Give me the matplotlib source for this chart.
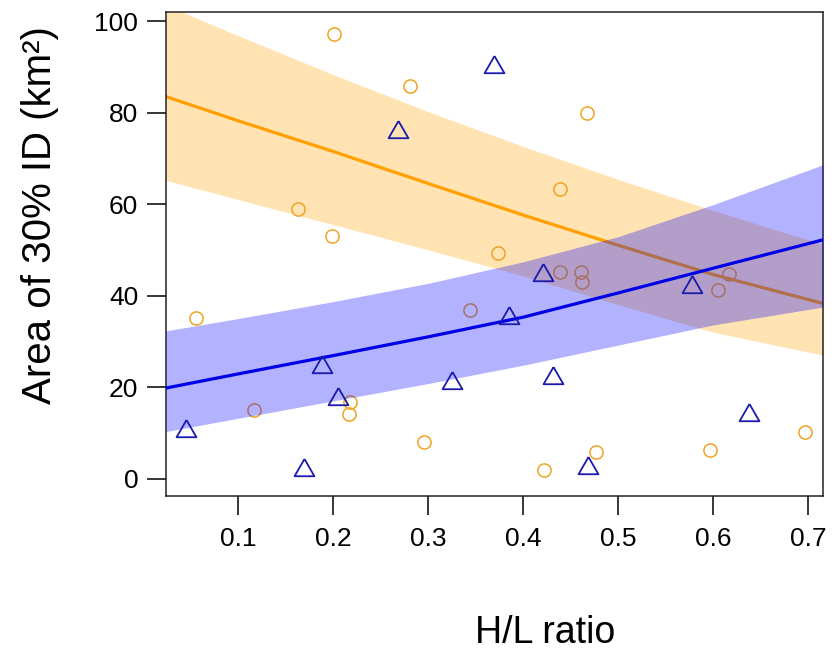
import matplotlib
matplotlib.use("Agg")
import matplotlib.pyplot as plt


# points
circle_x = [0.2006, 0.2806, 0.467, 0.4385, 0.1627, 0.198, 0.373, 0.0552, 0.3437,
            0.4385, 0.4603, 0.462, 0.6168, 0.6052, 0.1163, 0.2174, 0.2167, 0.2953,
            0.6965, 0.5965, 0.4764, 0.422]
circle_y = [97.2, 85.8, 79.9, 63.2, 58.9, 53.1, 49.3, 35.1, 36.9,
            45.1, 45.2, 42.9, 44.7, 41.2, 15.0, 16.8, 14.1, 8.0,
            10.1, 6.3, 5.9, 1.9]

tri_x = [0.369, 0.2683, 0.1876, 0.2044, 0.3245, 0.0444, 0.169, 0.3845, 0.421,
         0.5778, 0.4308, 0.6372, 0.4683]
tri_y = [89.9, 75.8, 24.4, 17.5, 21.0, 10.3, 1.9, 35.2, 44.6,
         41.9, 21.9, 13.9, 2.4]

# fitted curves and confidence bands
fit_x = [0.0237, 0.1, 0.2, 0.3, 0.4, 0.5, 0.6, 0.7155]
orange_fit = [83.5, 78.2, 71.5, 64.5, 57.6, 51.0, 44.6, 38.3]
orange_hi = [103.5, 96.8, 88.3, 80.2, 72.6, 65.4, 58.6, 51.2]
orange_lo = [65.2, 61.0, 55.5, 50.0, 44.3, 38.0, 32.0, 27.0]
blue_fit = [19.8, 22.9, 26.9, 31.0, 35.3, 40.6, 46.0, 52.2]
blue_hi = [32.3, 35.0, 38.7, 42.7, 47.4, 52.9, 59.9, 68.6]
blue_lo = [10.3, 13.2, 17.0, 20.8, 24.8, 29.2, 33.6, 37.5]

x_ticks = [0.1, 0.2, 0.3, 0.4, 0.5, 0.6, 0.7]
y_ticks = [0, 20, 40, 60, 80, 100]


plt.rcParams["font.family"] = ["Liberation Sans", "DejaVu Sans"]

fig = plt.figure(figsize=(8.33, 6.53), dpi=100)
ax = fig.add_axes([166 / 833, 1 - 496 / 653, 657 / 833, 484 / 653])

ax.fill_between(fit_x, orange_lo, orange_hi, color="orange", alpha=0.3,
                linewidth=0, zorder=1)
ax.plot(fit_x, orange_fit, color="#FFA000", linewidth=2.3, zorder=2)
ax.plot(circle_x, circle_y, linestyle="none", marker="o", markersize=9.5,
        markerfacecolor="none", markeredgecolor="#EFA325",
        markeredgewidth=1.1, zorder=3)

ax.fill_between(fit_x, blue_lo, blue_hi, color="blue", alpha=0.3,
                linewidth=0, zorder=4)
ax.plot(fit_x, blue_fit, color="#0000E6", linewidth=2.3, zorder=5)

tri = [(0, 1), (0.866, -0.5), (-0.866, -0.5), (0, 1)]
ax.plot(tri_x, tri_y, linestyle="none", marker=tri, markersize=16.5,
        markerfacecolor="none", markeredgecolor="#1A1AAE",
        markeredgewidth=1.3, zorder=6)

ax.set_xlim(0.0237, 0.7155)
ax.set_ylim(-3.8, 102.0)
ax.set_xticks(x_ticks)
ax.set_xticklabels([f"{t:.1f}" for t in x_ticks])
ax.set_yticks(y_ticks)
ax.set_yticklabels([str(t) for t in y_ticks])
ax.tick_params(axis="both", direction="out", length=13.5, width=1.1,
               labelsize=19, colors="black")
ax.tick_params(axis="x", pad=9)
ax.tick_params(axis="y", pad=6.5)
for spine in ax.spines.values():
    spine.set_linewidth(1.1)
    spine.set_color("#222222")

fig.text(545 / 833, 1 - 633 / 653, "H/L ratio", fontsize=27,
         ha="center", va="center")
fig.text(40 / 833, 1 - 215 / 653, "Area of 30% ID (km\u00b2)",
         fontsize=29, rotation=90, ha="center", va="center")

fig.savefig("out.png", dpi=100)
